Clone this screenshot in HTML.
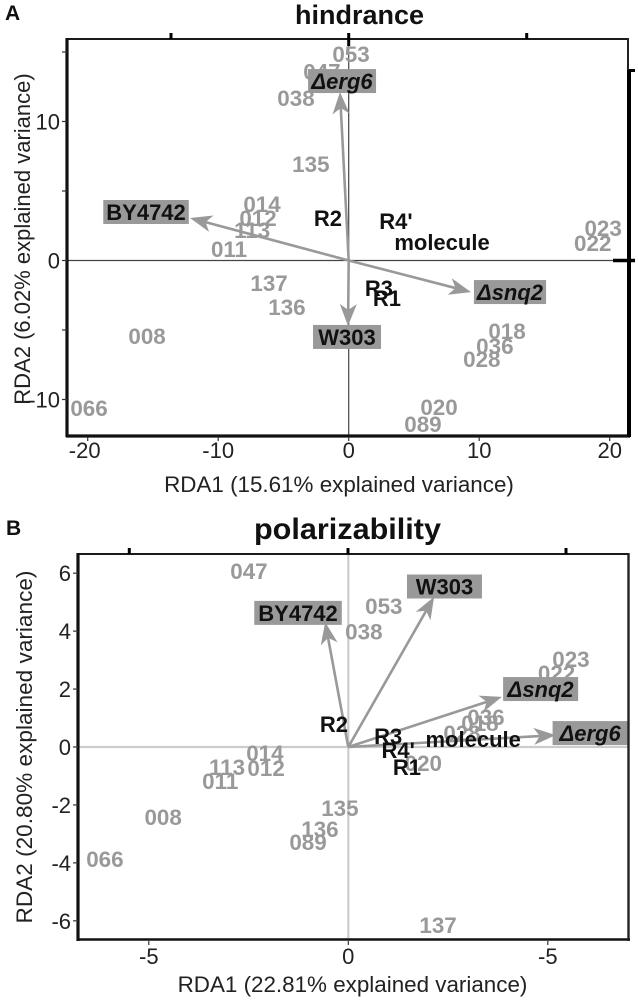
<!DOCTYPE html>
<html>
<head>
<meta charset="utf-8">
<title>RDA biplots</title>
<style>
html,body{margin:0;padding:0;background:#fff;}
svg{display:block;font-family:"Liberation Sans",sans-serif;}
</style>
</head>
<body>
<svg id="chart" xmlns="http://www.w3.org/2000/svg" width="638" height="1001" viewBox="0 0 638 1001">
  <rect width="638" height="1001" fill="#fff"/>
  <text x="5" y="20" font-size="21" font-weight="bold" fill="#111">A</text>
  <text x="6" y="535" font-size="21" font-weight="bold" fill="#111">B</text>
  <text x="359.500" y="24" font-size="27" font-weight="bold" text-anchor="middle" fill="#111">hindrance</text>
  <text x="347.500" y="539" font-size="30" font-weight="bold" text-anchor="middle" fill="#111" textLength="187" lengthAdjust="spacingAndGlyphs">polarizability</text>
  <text x="339" y="492" font-size="22.400" text-anchor="middle" fill="#222">RDA1 (15.61% explained variance)</text>
  <text transform="translate(30 239) rotate(-90)" font-size="22" text-anchor="middle" fill="#222">RDA2 (6.02% explained variance)</text>
  <text x="352.500" y="992" font-size="22.400" text-anchor="middle" fill="#222">RDA1 (22.81% explained variance)</text>
  <text transform="translate(32 747) rotate(-90)" font-size="22.600" text-anchor="middle" fill="#222">RDA2 (20.80% explained variance)</text>
</svg>
<script>
// Panel A data
const aXTicks = [-20, -10, 0, 10, 20];
const aXTickLabels = ["-20", "-10", "0", "10", "20"];
const aYTicks = [10, 0, -10];
const aYTickLabels = ["10", "0", "-10"];
const aYMinorTicks = [15, 5, -5];
const aSites = ["053","047","038","135","014","012","113","011","137","136","008","066","023","022","018","036","028","020","089"];
const aSiteX = [0.18,-2.05,-4.04,-2.9,-6.64,-6.95,-7.4,-9.17,-6.1,-4.73,-15.45,-19.9,19.5,18.7,12.13,11.2,10.2,6.92,5.69];
const aSiteY = [14.86,13.6,11.7,6.94,4.06,3.06,2.19,0.83,-1.62,-3.35,-5.43,-10.6,2.34,1.26,-5.07,-6.15,-7.09,-10.54,-11.76];
const aTerms = ["R2","R4'","molecule","R3","R1"];
const aTermX = [-1.59,3.62,7.15,2.32,2.93];
const aTermY = [3.06,2.84,1.33,-1.98,-2.7];
const aStrains = ["BY4742","Δerg6","Δsnq2","W303"];
const aStrainItalic = [false,true,true,false];
const aArrowX = [-12.16,-0.67,9.37,-0.05];
const aArrowY = [3.06,12.12,-2.27,-4.71];
const aStrainX = [-15.53,-0.51,12.36,-0.13];
const aStrainY = [3.49,12.91,-2.27,-5.5];

// Panel B data
const bXTicks = [-5, 0, 5];
const bXTickLabels = ["-5", "0", "-5"];
const bYTicks = [6, 4, 2, 0, -2, -4, -6];
const bYTickLabels = ["6", "4", "2", "0", "-2", "-4", "-6"];
const bSites = ["047","053","038","023","022","036","018","028","020","014","113","012","011","008","066","135","136","089","137"];
const bSiteX = [-2.49,0.89,0.39,5.58,5.22,3.45,3.3,2.85,1.88,-2.09,-3.04,-2.06,-3.21,-4.64,-6.1,-0.21,-0.71,-1.01,2.25];
const bSiteY = [6.08,4.87,3.99,3.04,2.55,1.04,0.83,0.48,-0.55,-0.21,-0.69,-0.72,-1.17,-2.42,-3.87,-2.11,-2.83,-3.28,-6.14];
const bTerms = ["R2","R3","R4'","molecule","R1"];
const bTermX = [-0.36,1.0,1.25,3.13,1.47];
const bTermY = [0.79,0.38,-0.1,0.28,-0.69];
const bStrains = ["BY4742","W303","Δsnq2","Δerg6"];
const bStrainItalic = [false,false,true,true];
const bArrowX = [-0.58,2.15,3.85,5.2];
const bArrowY = [4.31,5.18,1.73,0.41];
const bStrainX = [-1.26,2.41,4.82,6.06];
const bStrainY = [4.63,5.54,2.0,0.48];

const NS = "http://www.w3.org/2000/svg";
const svg = document.getElementById("chart");

function make(tag, attrs, parent) {
  const el = document.createElementNS(NS, tag);
  for (const k in attrs) el.setAttribute(k, attrs[k]);
  (parent || svg).appendChild(el);
  return el;
}

function sxA(v) { return 348.7 + v * 13.05; }
function syA(v) { return 260.5 - v * 13.9; }
function sxB(v) { return 348.3 + v * 39.9; }
function syB(v) { return 747 - v * 28.97; }

function drawLine(x1, y1, x2, y2, color, width, name) {
  const l = make("line", {x1: x1, y1: y1, x2: x2, y2: y2, stroke: color, "stroke-width": width});
  
  
  return l;
}

function drawText(x, y, str, size, anchor, color, weight, name) {
  const t = make("text", {x: x, y: y, "font-size": size, "text-anchor": anchor, fill: color, "font-weight": weight});
  t.textContent = str;
  
  
  return t;
}

function drawArrow(x0, y0, x1, y1, name) {
  const dx = x1 - x0, dy = y1 - y0, len = Math.hypot(dx, dy);
  const ux = dx / len, uy = dy / len, nx = -uy, ny = ux;
  const hl = 22, hw = 8.5, notch = 16;
  drawLine(x0, y0, x1 - ux * notch, y1 - uy * notch, "#999", 2.6, name + "-shaft");
  const pts = [
    [x1, y1],
    [x1 - ux * hl + nx * hw, y1 - uy * hl + ny * hw],
    [x1 - ux * notch, y1 - uy * notch],
    [x1 - ux * hl - nx * hw, y1 - uy * hl - ny * hw]
  ].map(function (p) { return p[0].toFixed(1) + "," + p[1].toFixed(1); }).join(" ");
  const head = make("polygon", {points: pts, fill: "#999"});
  
  
}

function drawStrainLabel(cx, cy, str, italic, pad, minW, name) {
  const box = make("rect", {y: cy - 12, height: 24, fill: "#999"});
  
  
  const t = drawText(cx, cy + 8, str, 22, "middle", "#111", "bold", name + "-label");
  if (italic) t.setAttribute("font-style", "italic");
  const w = Math.max(t.getComputedTextLength() + pad, minW);
  box.setAttribute("x", cx - w / 2);
  box.setAttribute("width", w);
}

// ---- Panel A ----
drawLine(sxA(0), 39, sxA(0), 436, "#444", 1.2, "panel-a-zero-vertical");
drawLine(67, syA(0), 628, syA(0), "#444", 1.2, "panel-a-zero-horizontal");

aSites.forEach(function (s, i) {
  drawText(sxA(aSiteX[i]), syA(aSiteY[i]) + 8, s, 22.4, "middle", "#999", "bold", "panel-a-site-" + s);
});
aStrains.forEach(function (s, i) {
  drawArrow(sxA(0), syA(0), sxA(aArrowX[i]), syA(aArrowY[i]), "panel-a-arrow-" + i);
});
aStrains.forEach(function (s, i) {
  drawStrainLabel(sxA(aStrainX[i]), syA(aStrainY[i]), s, aStrainItalic[i], 6, 68, "panel-a-strain-" + i);
});
aTerms.forEach(function (s, i) {
  drawText(sxA(aTermX[i]), syA(aTermY[i]) + 8, s, 22, "middle", "#111", "bold", "panel-a-term-" + i);
});

drawLine(66, 39, 628, 39, "#1a1a1a", 2, "panel-a-frame-top");
drawLine(67, 38, 67, 437, "#111", 3.2, "panel-a-frame-left");
drawLine(66, 436, 630, 436, "#111", 3.2, "panel-a-frame-bottom");
drawLine(628, 38, 628, 71, "#222", 2, "panel-a-frame-right-upper");
drawLine(629, 70, 629, 437, "#000", 4, "panel-a-frame-right-lower");
drawLine(629, 70.5, 635, 70.5, "#000", 3, "panel-a-right-tick-upper");
drawLine(613, syA(0), 635, syA(0), "#000", 3.5, "panel-a-right-tick-zero");

[171, 348.7, 526.7].forEach(function (x, i) {
  drawLine(x, 33, x, i === 1 ? 46 : 39, "#000", 3, "panel-a-top-tick-" + i);
});
aXTicks.forEach(function (v, i) {
  drawLine(sxA(v), 437, sxA(v), 441, "#333", 1.2, "panel-a-x-tick-" + i);
  drawText(sxA(v) - (v < -15 ? 3 : 0), 458, aXTickLabels[i], 22, "middle", "#222", "normal", "panel-a-x-tick-label-" + i);
});
aYTicks.forEach(function (v, i) {
  drawLine(62, syA(v), 67, syA(v), "#333", 1.2, "panel-a-y-tick-" + i);
  drawText(60, syA(v) + 8, aYTickLabels[i], 22, "end", "#222", "normal", "panel-a-y-tick-label-" + i);
});
aYMinorTicks.forEach(function (v, i) {
  drawLine(62, syA(v), 67, syA(v), "#333", 1.2, "panel-a-y-minor-tick-" + i);
});

// ---- Panel B ----
drawLine(sxB(0), 554, sxB(0), 939, "#ccc", 2.2, "panel-b-zero-vertical");
drawLine(77, syB(0), 628, syB(0), "#ccc", 2.2, "panel-b-zero-horizontal");

bSites.forEach(function (s, i) {
  drawText(sxB(bSiteX[i]), syB(bSiteY[i]) + 8, s, 22.4, "middle", "#999", "bold", "panel-b-site-" + s);
});
bStrains.forEach(function (s, i) {
  drawArrow(sxB(0), syB(0), sxB(bArrowX[i]), syB(bArrowY[i]), "panel-b-arrow-" + i);
});
bStrains.forEach(function (s, i) {
  drawStrainLabel(sxB(bStrainX[i]), syB(bStrainY[i]), s, bStrainItalic[i], 8, 75, "panel-b-strain-" + i);
});
bTerms.forEach(function (s, i) {
  drawText(sxB(bTermX[i]), syB(bTermY[i]) + 8, s, 22, "middle", "#111", "bold", "panel-b-term-" + i);
});

drawLine(77, 554, 629, 554, "#1a1a1a", 2, "panel-b-frame-top");
drawLine(78, 553, 78, 941, "#111", 3.2, "panel-b-frame-left");
drawLine(77, 939.500, 630, 939.500, "#111", 2.6, "panel-b-frame-bottom");
drawLine(628.500, 553, 628.500, 941, "#222", 2.4, "panel-b-frame-right");

[129.3, 348, 566].forEach(function (x, i) {
  drawLine(x, 548, x, 554, "#000", 3, "panel-b-top-tick-" + i);
});
bXTicks.forEach(function (v, i) {
  drawLine(sxB(v), 941, sxB(v), 945, "#333", 1.2, "panel-b-x-tick-" + i);
  drawText(sxB(v), 964, bXTickLabels[i], 22, "middle", "#222", "normal", "panel-b-x-tick-label-" + i);
});
bYTicks.forEach(function (v, i) {
  drawLine(73, syB(v), 78, syB(v), "#333", 1.2, "panel-b-y-tick-" + i);
  drawText(71, syB(v) + 8, bYTickLabels[i], 22, "end", "#222", "normal", "panel-b-y-tick-label-" + i);
});
</script>
</body>
</html>
